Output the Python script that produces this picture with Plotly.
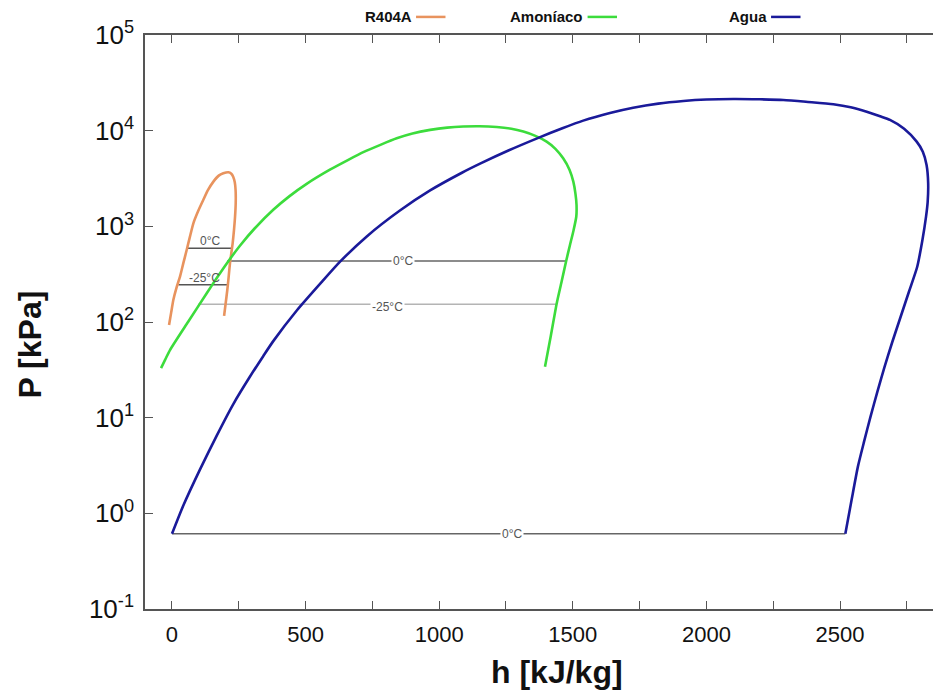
import math
import plotly.graph_objects as go

# ---------------- data (h in kJ/kg, P in kPa) ----------------
agua_h = [0, 42, 105, 167, 229, 292, 342, 379, 467, 561, 629, 729, 853, 966, 1085, 1153, 1261,
          1371, 1461, 1539, 1639, 1726, 1820, 1914, 2000, 2101,
          2200, 2288, 2380, 2475, 2540, 2600, 2650, 2687, 2740, 2787, 2810, 2824, 2830, 2828,
          2822, 2808, 2789, 2758, 2727, 2696, 2667, 2640, 2614, 2590, 2567, 2544, 2520]
agua_p = [0.611, 1.20, 2.88, 6.46, 13.8, 26.9, 44.2, 63.1, 131.8, 263, 427, 785, 1462, 2371,
          3631, 4519, 6237, 8414, 10593, 12735, 15311, 17378, 19187, 20417, 21135, 21429,
          21281, 20941, 19953, 18880, 17579, 15776, 14125, 12942, 10471, 7674, 6026, 4375, 2818,
          1778, 1262, 708, 378, 207, 113.5, 62.2, 34.1, 18.7, 10.2, 5.61, 3.08, 1.41, 0.611]

amon_h = [-41, -25, -7.5, 60, 130, 170, 207, 255, 310, 379, 440, 504, 591, 660, 716, 780, 841,
          900, 966, 1030, 1090, 1150, 1215, 1270, 1315, 1360, 1402, 1435, 1464, 1488, 1502, 1510,
          1514, 1513, 1503, 1489, 1475, 1458, 1440, 1418, 1396]
amon_p = [33.0, 40.7, 50.9, 100, 200, 295, 417, 631, 955, 1489, 2070, 2780, 3908, 4955, 5957,
          7112, 8318, 9333, 10186, 10765, 11041, 11117, 10914, 10471, 9772, 8810, 7674, 6457,
          5140, 3890, 2931, 2188, 1671, 1259, 912, 631, 432, 263, 157, 72.4, 34.1]

r404_h = [-11, -3, 5, 17, 30, 42, 55, 67, 80, 98, 117, 135, 155, 175, 192, 211, 222, 229, 235,
          238, 238.5, 236, 232, 227, 222, 217, 212, 207, 201, 195]
r404_p = [93.1, 126, 170, 229, 298, 407, 566, 776, 1076, 1445, 1884, 2399, 2931, 3388, 3581,
          3673, 3548, 3304, 2884, 2399, 1778, 1262, 912, 665, 525, 411, 295, 216, 158, 116]

# isotherms
iso_labels = ["0°C", "-25°C", "0°C", "-25°C", "0°C"]
iso_h_left = [56, 24, 207, 98, 0]
iso_h_right = [224, 208, 1475, 1440, 2520]
iso_p = [589, 245, 434, 153, 0.611]
iso_label_h = [142, 120, 864, 805, 1272]

x_ticks = [0, 500, 1000, 1500, 2000, 2500]
y_ticks = [0.1, 1, 10, 100, 1000, 10000, 100000]
y_ticktext = ["10<sup>-1</sup>", "10<sup>0</sup>", "10<sup>1</sup>", "10<sup>2</sup>",
              "10<sup>3</sup>", "10<sup>4</sup>", "10<sup>5</sup>"]

C_R404 = "#E8935E"
C_NH3 = "#3CDC3C"
C_H2O = "#1A1A9A"
iso_colors = ["#555555", "#555555", "#666666", "#B4B4B4", "#666666"]
iso_label_shift = [7, 7, 0, -3, 0]
iso_label_bg = ["rgba(0,0,0,0)", "rgba(0,0,0,0)", "white", "white", "white"]

fig = go.Figure()

for i in range(len(iso_labels)):
    fig.add_trace(go.Scatter(x=[iso_h_left[i], iso_h_right[i]], y=[iso_p[i], iso_p[i]],
                             mode="lines", line=dict(color=iso_colors[i], width=1.5),
                             showlegend=False, hoverinfo="skip"))

for h, p, c in [(r404_h, r404_p, C_R404), (amon_h, amon_p, C_NH3), (agua_h, agua_p, C_H2O)]:
    fig.add_trace(go.Scatter(x=h, y=p, mode="lines",
                             line=dict(color=c, width=2.6, shape="spline", smoothing=0.6),
                             showlegend=False, hoverinfo="skip"))

for i in range(len(iso_labels)):
    fig.add_annotation(x=iso_label_h[i], y=math.log10(iso_p[i]), text=iso_labels[i],
                       showarrow=False, yshift=iso_label_shift[i],
                       font=dict(family="Liberation Sans, Arial", size=12, color="#555555"),
                       bgcolor=iso_label_bg[i], borderpad=1)

# legend (text followed by line sample)
leg_names = ["R404A", "Amoníaco", "Agua"]
leg_colors = [C_R404, C_NH3, C_H2O]
leg_x = [0.3375, 0.553, 0.7835]  # paper x of text right edge
for name, col, xr in zip(leg_names, leg_colors, leg_x):
    fig.add_annotation(x=xr, y=1.0315, xref="paper", yref="paper", xanchor="right",
                       yanchor="middle", text=name, showarrow=False,
                       font=dict(family="Liberation Sans Narrow, Arial Narrow, Arial", size=15,
                                 color="#111111", weight="bold"))
    fig.add_shape(type="line", xref="paper", yref="paper", x0=xr + 0.003, x1=xr + 0.04,
                  y0=1.0315, y1=1.0315, line=dict(color=col, width=2.5))

# axis titles
fig.add_annotation(x=0.518, y=-0.11, xref="paper", yref="paper", text="h [kJ/kg]",
                   showarrow=False, yanchor="middle",
                   font=dict(family="Liberation Sans, Arial", size=32, color="#111111", weight="bold"))
fig.add_annotation(x=-0.145, y=0.46, xref="paper", yref="paper", text="P [kPa]",
                   showarrow=False, textangle=-90, xanchor="center", yanchor="middle",
                   font=dict(family="Liberation Sans, Arial", size=32, color="#111111", weight="bold"))

fig.update_xaxes(range=[-101, 2878], tickvals=x_ticks, ticks="inside", ticklen=8, tickwidth=1.3,
                 tickcolor="#555555", showline=True, linecolor="#555555", linewidth=1.6,
                 mirror="ticks", showgrid=False, zeroline=False, ticklabelstandoff=5,
                 automargin=False,
                 tickfont=dict(family="Liberation Sans, Arial", size=22, color="#111111"),
                 minor=dict(ticks="inside", ticklen=8, tickwidth=1.3, tickcolor="#555555",
                            dtick=250, showgrid=False))
fig.update_yaxes(type="log", range=[-1, 5], tickvals=y_ticks, ticktext=y_ticktext,
                 ticks="inside", ticklen=8, tickwidth=1.3, tickcolor="#555555",
                 showline=True, linecolor="#555555", linewidth=1.6, mirror=False,
                 showgrid=False, zeroline=False, ticklabelstandoff=4, automargin=False,
                 tickfont=dict(family="Liberation Sans, Arial", size=26, color="#111111"))

# the page adds an 8px body margin; size the figure so the plot lands where the reference has it
fig.update_layout(width=933, height=690, margin=dict(l=137, r=0, t=27, b=89, autoexpand=False),
                  paper_bgcolor="white", plot_bgcolor="white", showlegend=False)

fig.write_html("out.html")
